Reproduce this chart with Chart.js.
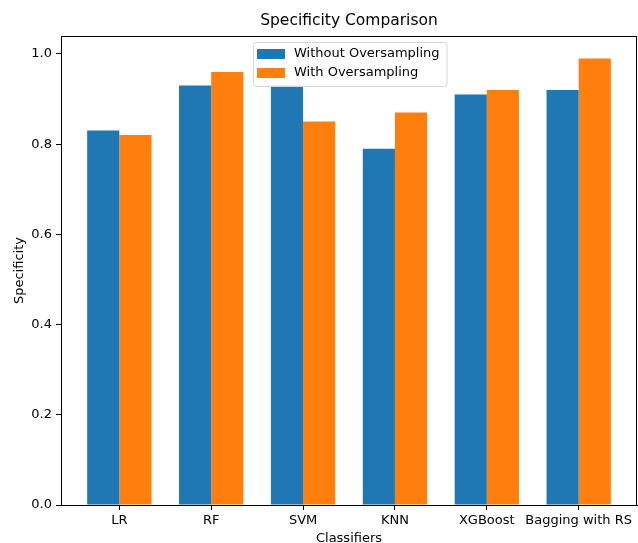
<!DOCTYPE html>
<html>
<head>
<meta charset="utf-8">
<script src="https://cdn.jsdelivr.net/npm/chart.js@4.4.1/dist/chart.umd.min.js"></script>
<style>
  body { margin: 0; background: #fff; }
  #wrap { width: 638px; height: 543px; }
</style>
</head>
<body>
<div id="wrap"><canvas id="chart" width="638" height="543"></canvas></div>
<script>
// Dados
const classificadores = ["LR", "RF", "SVM", "KNN", "XGBoost", "Bagging with RS"];
const semOversampling = [0.83, 0.93, 0.93, 0.79, 0.91, 0.92];
const comOversampling = [0.82, 0.96, 0.85, 0.87, 0.92, 0.99];
const yTicks = [0.0, 0.2, 0.4, 0.6, 0.8, 1.0];

const FONTE = "'DejaVu Sans', sans-serif";
const azul = '#1f77b4';
const laranja = '#ff7f0e';

// moldura preta em volta da área do gráfico + legenda estilo matplotlib
const moldura = {
    id: 'moldura',
    afterDraw(chart) {
        const ctx = chart.ctx;
        const a = chart.chartArea;
        ctx.save();
        ctx.strokeStyle = '#000';
        ctx.lineWidth = 1;
        ctx.strokeRect(Math.round(a.left) + 0.5, Math.round(a.top) + 0.5,
            Math.round(a.right - a.left) - 1, Math.round(a.bottom - a.top));

        // legenda
        ctx.font = '13px ' + FONTE;
        const itens = chart.data.datasets.map(ds => ({ texto: ds.label, cor: ds.backgroundColor }));
        const larguraTexto = Math.max(...itens.map(i => ctx.measureText(i.texto).width));
        const w = 5 + 28 + 9 + larguraTexto + 6;
        const h = 44;
        const x0 = Math.round((a.left + a.right) / 2 - w / 2) + 1;
        const y0 = Math.round(a.top + 6);
        ctx.fillStyle = 'rgba(255,255,255,0.8)';
        ctx.strokeStyle = '#d6d6d6';
        ctx.beginPath();
        ctx.roundRect(x0 + 0.5, y0 + 0.5, w, h, 3);
        ctx.fill();
        ctx.stroke();
        itens.forEach((it, i) => {
            const cy = y0 + 12 + i * 19;
            ctx.fillStyle = it.cor;
            ctx.fillRect(x0 + 4, cy - 5, 28, 10);
            ctx.fillStyle = '#000';
            ctx.textBaseline = 'middle';
            ctx.textAlign = 'left';
            ctx.fillText(it.texto, x0 + 41, cy);
        });
        ctx.restore();
    }
};

new Chart(document.getElementById('chart'), {
    type: 'bar',
    data: {
        datasets: [
            {
                label: 'Without Oversampling',
                data: classificadores.map((c, i) => ({ x: i, y: semOversampling[i] })),
                backgroundColor: azul
            },
            {
                label: 'With Oversampling',
                data: classificadores.map((c, i) => ({ x: i, y: comOversampling[i] })),
                backgroundColor: laranja
            }
        ]
    },
    options: {
        responsive: false,
        animation: false,
        categoryPercentage: 0.7,
        barPercentage: 1.0,
        layout: { padding: { top: 0, right: 1, bottom: -3, left: 0 } },
        scales: {
            x: {
                type: 'linear',
                offset: false,
                min: -0.635,
                max: 5.635,
                afterBuildTicks: s => { s.ticks = classificadores.map((c, i) => ({ value: i })); },
                afterFit: s => { s.height = 41; },
                ticks: {
                    color: '#000',
                    font: { family: FONTE, size: 13 },
                    padding: 3,
                    maxRotation: 0,
                    autoSkip: false,
                    callback: v => classificadores[v]
                },
                grid: { offset: false, drawOnChartArea: false, tickLength: 5, tickColor: '#000' },
                border: { color: '#000' },
                title: {
                    display: true,
                    text: 'Classifiers',
                    color: '#000',
                    font: { family: FONTE, size: 13 },
                    padding: { top: 0, bottom: 0 }
                }
            },
            y: {
                min: 0,
                max: 1.0395,
                afterBuildTicks: s => { s.ticks = yTicks.map(v => ({ value: v })); },
                afterFit: s => { s.width = 61; },
                ticks: {
                    color: '#000',
                    font: { family: FONTE, size: 13 },
                    padding: 4,
                    callback: v => v.toFixed(1)
                },
                grid: { drawOnChartArea: false, tickLength: 5, tickColor: '#000' },
                border: { color: '#000' },
                title: {
                    display: true,
                    text: 'Specificity',
                    color: '#000',
                    font: { family: FONTE, size: 13 },
                    padding: { top: 12, bottom: 0 }
                }
            }
        },
        plugins: {
            legend: { display: false },
            tooltip: { enabled: false },
            title: {
                display: true,
                fullSize: false,
                text: 'Specificity Comparison',
                color: '#000',
                font: { family: FONTE, size: 15.5, weight: 'normal' },
                padding: { top: 12, bottom: 5.5 }
            }
        }
    },
    plugins: [moldura]
});
</script>
</body>
</html>
